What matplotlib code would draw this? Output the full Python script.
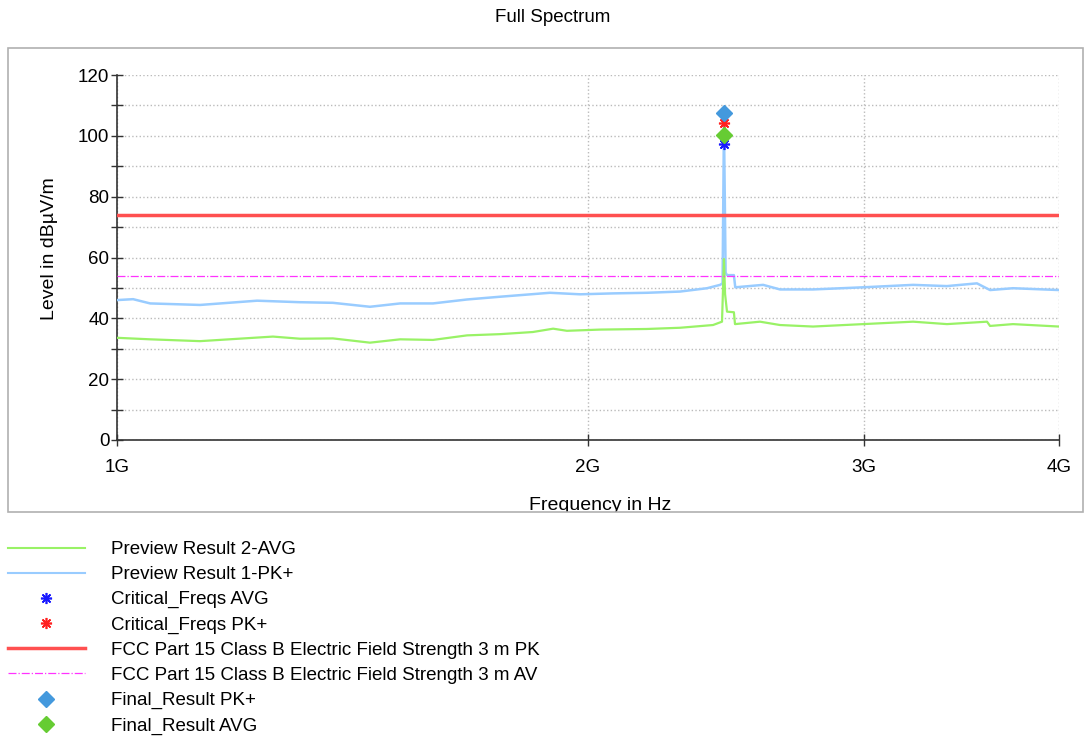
import numpy as np
import matplotlib
matplotlib.use("Agg")
import matplotlib.pyplot as plt
from matplotlib.lines import Line2D
from matplotlib.patches import Rectangle
from matplotlib.ticker import FixedLocator, FixedFormatter, NullLocator, MultipleLocator

plt.rcParams['font.family'] = ['Liberation Sans', 'DejaVu Sans']

# Preview Result 1-PK+ (blue trace), frequency in GHz, level in dBuV/m
pk_freq = [1.000, 1.024, 1.050, 1.130, 1.229, 1.309, 1.374, 1.451, 1.517, 1.592,
           1.674, 1.757, 1.891, 1.977, 2.075, 2.181, 2.290, 2.383, 2.429, 2.438,
           2.443, 2.449, 2.454, 2.479, 2.484, 2.588, 2.653, 2.785, 2.998, 3.227,
           3.392, 3.545, 3.614, 3.738, 4.000]
pk_level = [46.0, 46.3, 44.9, 44.4, 45.8, 45.3, 45.1, 43.8, 44.9, 44.9,
            46.2, 47.1, 48.4, 47.9, 48.2, 48.4, 48.8, 49.9, 51.0, 51.5,
            104.3, 55.0, 54.2, 54.2, 50.2, 51.0, 49.5, 49.5, 50.2, 51.0,
            50.6, 51.5, 49.3, 49.9, 49.3]

# Preview Result 2-AVG (green trace)
avg_freq = [1.000, 1.050, 1.130, 1.258, 1.309, 1.374, 1.451, 1.517, 1.592, 1.674,
            1.757, 1.844, 1.900, 1.939, 2.036, 2.181, 2.290, 2.404, 2.436, 2.443,
            2.447, 2.454, 2.479, 2.483, 2.576, 2.653, 2.785, 2.998, 3.227, 3.392,
            3.598, 3.614, 3.738, 4.000]
avg_level = [33.6, 33.1, 32.5, 34.0, 33.3, 33.4, 32.0, 33.1, 32.9, 34.4,
             34.8, 35.5, 36.6, 35.9, 36.3, 36.5, 36.9, 37.8, 38.9, 59.5,
             48.0, 42.2, 42.0, 38.1, 38.9, 37.8, 37.3, 38.1, 38.9, 38.1,
             38.9, 37.5, 38.1, 37.3]

# single frequency results
crit_freq = 2.443
crit_avg = 97.2
crit_pk = 104.3
final_pk = 107.6
final_avg = 100.3

# limits
limit_pk = 74.0
limit_av = 54.0

x_ticks = [1, 2, 3, 4]
x_labels = ['1G', '2G', '3G', '4G']

c_avg = '#99f266'
c_pk = '#99ccff'

fig = plt.figure(figsize=(10.89, 7.42), dpi=100)
ax = fig.add_axes([117/1089, 1-440/742, 942/1089, 365/742])

G = 1e9
ax.plot(np.array(pk_freq)*G, pk_level, color=c_pk, lw=1.8, zorder=3)
ax.plot(np.array(avg_freq)*G, avg_level, color=c_avg, lw=1.6, zorder=4)
ax.axhline(limit_pk, color='#ff5050', lw=2.5, zorder=5)
ax.axhline(limit_av, color='#ff33ff', lw=0.9, ls='-.', zorder=5)
ax.plot(crit_freq*G, crit_avg, ls='none', marker=(8, 2, 0), color='#1a1aff', ms=8, mew=1.2, zorder=6)
ax.plot(crit_freq*G, crit_pk, ls='none', marker=(8, 2, 0), color='#ff2020', ms=8, mew=1.2, zorder=6)
ax.plot(crit_freq*G, final_pk, ls='none', marker='D', color='#4499dd', ms=8, zorder=7)
ax.plot(crit_freq*G, final_avg, ls='none', marker='D', color='#66cc33', ms=8, zorder=7)

ax.set_xscale('log')
ax.set_xlim(1*G, 4*G)
ax.set_ylim(0, 120)
ax.xaxis.set_major_locator(FixedLocator([t*G for t in x_ticks]))
ax.xaxis.set_major_formatter(FixedFormatter(x_labels))
ax.xaxis.set_minor_locator(NullLocator())
ax.yaxis.set_major_locator(MultipleLocator(20))
ax.yaxis.set_minor_locator(MultipleLocator(10))

for s in ['top', 'right']:
    ax.spines[s].set_visible(False)
for s in ['left', 'bottom']:
    ax.spines[s].set_color('#333333')
    ax.spines[s].set_linewidth(1.2)

ax.tick_params(which='both', direction='inout', length=9, width=1, color='#333333')
ax.tick_params(axis='y', labelsize=13.5, pad=1)
ax.tick_params(axis='x', labelsize=13.5, pad=9)
ax.grid(which='both', axis='y', ls=':', color='#bbbbbb', lw=1)
ax.grid(which='major', axis='x', ls=':', color='#bbbbbb', lw=1)
ax.set_axisbelow(True)

fig.text(553/1089, 1-17/742, 'Full Spectrum', ha='center', va='center', fontsize=13.5)
fig.text(50/1089, 1-249/742, 'Level in dBµV/m', rotation=90, ha='center', va='center', fontsize=14)
fig.text(600/1089, 1-510/742, 'Frequency in Hz', ha='center', va='baseline', fontsize=14)

# outer frame, and white cover to clip the x label like the original
fig.add_artist(Rectangle((0, 0), 1, 1-512/742, transform=fig.transFigure,
                         facecolor='white', edgecolor='none', zorder=4))
fig.add_artist(Rectangle((8/1089, 1-512/742), 1075/1089, 464/742, transform=fig.transFigure,
                         facecolor='none', edgecolor='#b0b0b0', lw=1.2, zorder=4.5))

handles = [
    Line2D([], [], color=c_avg, lw=1.5),
    Line2D([], [], color=c_pk, lw=1.5),
    Line2D([], [], ls='none', marker=(8, 2, 0), color='#1a1aff', ms=8, mew=1.2),
    Line2D([], [], ls='none', marker=(8, 2, 0), color='#ff2020', ms=8, mew=1.2),
    Line2D([], [], color='#ff5050', lw=2.5),
    Line2D([], [], color='#ff33ff', lw=0.9, ls='-.'),
    Line2D([], [], ls='none', marker='D', color='#4499dd', ms=8),
    Line2D([], [], ls='none', marker='D', color='#66cc33', ms=8),
]
labels = [
    'Preview Result 2-AVG',
    'Preview Result 1-PK+',
    'Critical_Freqs AVG',
    'Critical_Freqs PK+',
    'FCC Part 15 Class B Electric Field Strength 3 m PK',
    'FCC Part 15 Class B Electric Field Strength 3 m AV',
    'Final_Result PK+',
    'Final_Result AVG',
]
leg = fig.legend(handles, labels, loc='upper left', bbox_to_anchor=(8/1089, 1-541/742),
                 frameon=False, fontsize=13.5, borderpad=0, handlelength=4.1,
                 handletextpad=1.4, labelspacing=0.425, borderaxespad=0)
leg.set_zorder(5)

fig.savefig('out.png', dpi=100)
